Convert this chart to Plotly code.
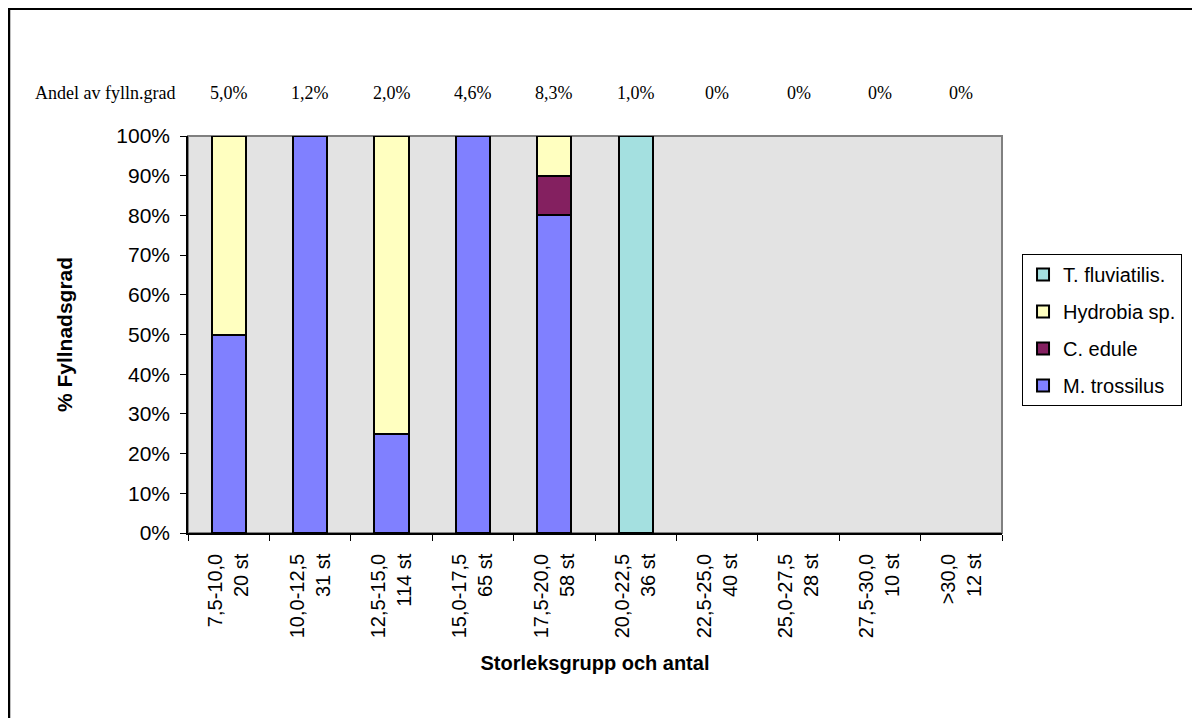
import plotly.graph_objects as go

categories = ["7,5-10,0<br>20 st", "10,0-12,5<br>31 st", "12,5-15,0<br>114 st",
              "15,0-17,5<br>65 st", "17,5-20,0<br>58 st", "20,0-22,5<br>36 st",
              "22,5-25,0<br>40 st", "25,0-27,5<br>28 st", "27,5-30,0<br>10 st",
              ">30,0<br>12 st"]
m_trossilus = [50, 100, 25, 100, 80, 0, 0, 0, 0, 0]
c_edule = [0, 0, 0, 0, 10, 0, 0, 0, 0, 0]
hydrobia = [50, 0, 75, 0, 10, 0, 0, 0, 0, 0]
t_fluviatilis = [0, 0, 0, 0, 0, 100, 0, 0, 0, 0]
andel = ["5,0%", "1,2%", "2,0%", "4,6%", "8,3%", "1,0%", "0%", "0%", "0%", "0%"]

series = [
    ("M. trossilus", m_trossilus, "#8080FF"),
    ("C. edule", c_edule, "#842060"),
    ("Hydrobia sp.", hydrobia, "#FFFFC0"),
    ("T. fluviatilis.", t_fluviatilis, "#A4E0E0"),
]

fig = go.Figure()
for i, (name, vals, col) in enumerate(series):
    fig.add_trace(go.Bar(
        x=categories, y=[v if v else None for v in vals], name=name,
        legendgroup=name, legendrank=10 - i,
        marker=dict(color=col, line=dict(color="black", width=2)),
    ))

for cat, txt in zip(categories, andel):
    fig.add_annotation(x=cat, y=1.108, xref="x", yref="paper", text=txt,
                       showarrow=False, xanchor="center", yanchor="middle",
                       font=dict(family="Liberation Serif", size=18, color="black"))
fig.add_annotation(x=-0.102, y=1.108, xref="paper", yref="paper",
                   text="Andel av fylln.grad", showarrow=False,
                   xanchor="center", yanchor="middle",
                   font=dict(family="Liberation Serif", size=18, color="black"))

# plot-area frame (gray) and outer chart border
fig.add_shape(type="rect", xref="paper", yref="paper", x0=0, x1=1, y0=0, y1=1,
              line=dict(color="#808080", width=2), layer="below")
fig.add_shape(type="rect", xref="paper", yref="paper",
              x0=(1 - 180) / 814, x1=(1220 - 180) / 814,
              y0=(525 - 0.8) / 397, y1=(525 - 740) / 397,
              line=dict(color="black", width=2.5))

fig.update_layout(
    width=1200, height=718,
    margin=dict(l=180, r=206, t=128, b=193),
    barmode="stack", bargap=0.58,
    paper_bgcolor="white", plot_bgcolor="#E3E3E3",
    font=dict(family="Liberation Sans, Arial", color="black"),
    showlegend=True,
    legend=dict(x=1.0246, y=0.703, xanchor="left", yanchor="top",
                tracegroupgap=8,
                bordercolor="black", borderwidth=1, bgcolor="white",
                font=dict(size=20, family="Liberation Sans, Arial")),
    xaxis=dict(type="category", tickson="boundaries", ticks="outside", ticklen=6,
               tickcolor="black", showline=True, linecolor="black", linewidth=1.5,
               tickangle=-90, tickfont=dict(size=20), ticklabelstandoff=11,
               title=dict(text="<b>Storleksgrupp och antal</b>",
                          font=dict(size=20), standoff=19),
               showgrid=False),
    yaxis=dict(range=[0, 100], dtick=10, ticksuffix="%", ticks="outside", ticklen=6,
               tickcolor="black", showline=True, linecolor="black", linewidth=1.5,
               tickfont=dict(size=21), showgrid=False, zeroline=False,
               ticklabelstandoff=6,
               title=dict(text="<b>% Fyllnadsgrad</b>", font=dict(size=21),
                          standoff=38)),
)

fig.write_html("out.html")
